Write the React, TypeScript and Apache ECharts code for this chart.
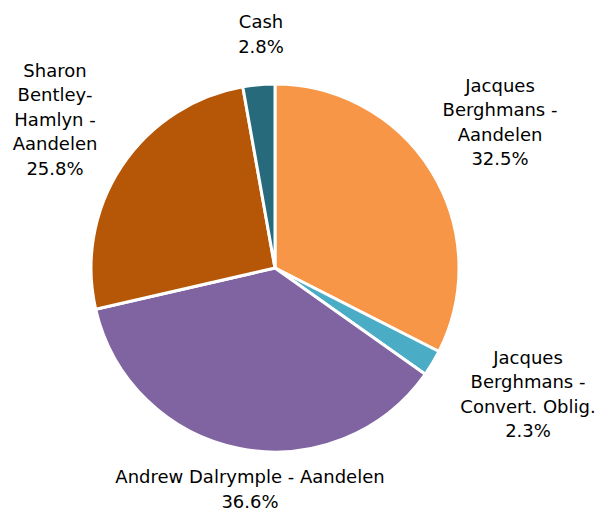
import React, { useEffect, useRef } from "react";
import * as echarts from "echarts";

const categories = [
  "Jacques Berghmans - Aandelen",
  "Jacques Berghmans - Convert. Oblig.",
  "Andrew Dalrymple - Aandelen",
  "Sharon Bentley-Hamlyn - Aandelen",
  "Cash",
];
const labelTexts = [
  "Jacques\nBerghmans -\nAandelen",
  "Jacques\nBerghmans -\nConvert. Oblig.",
  "Andrew Dalrymple - Aandelen",
  "Sharon\nBentley-\nHamlyn -\nAandelen",
  "Cash",
];
const values = [32.5, 2.3, 36.6, 25.8, 2.8];
const colors = ["#F79646", "#4BACC6", "#8064A2", "#B65708", "#276A7C"];

const labelPos = [
  [500, 122],
  [528, 394],
  [250, 489],
  [55, 119],
  [261, 34],
];

export default function App() {
  const ref = useRef<HTMLDivElement>(null);
  useEffect(() => {
    const chart = echarts.init(ref.current!, null, { renderer: "svg" });
    chart.setOption({
      animation: false,
      series: [
        {
          type: "pie",
          center: [275, 268],
          radius: 184,
          startAngle: 90,
          clockwise: true,
          itemStyle: { borderColor: "#fff", borderWidth: 3 },
          labelLine: { show: false },
          label: {
            show: true,
            position: "outside",
            overflow: "none",
            formatter: (p: any) => labelTexts[p.dataIndex] + "\n" + p.value.toFixed(1) + "%",
            fontFamily: "DejaVu Sans",
            fontSize: 18,
            lineHeight: 24.5,
            color: "#000",
            align: "center",
          },
          labelLayout: (p: any) => ({
            x: labelPos[p.dataIndex][0],
            y: labelPos[p.dataIndex][1],
            align: "center",
            verticalAlign: "middle",
          }),
          data: categories.map((c, i) => ({
            name: c,
            value: values[i],
            itemStyle: { color: colors[i] },
          })),
        },
      ],
    });
    return () => chart.dispose();
  }, []);
  return (
    <div
      ref={ref}
      style={{ position: "absolute", left: 0, top: 0, width: 598, height: 511 }}
    />
  );
}
